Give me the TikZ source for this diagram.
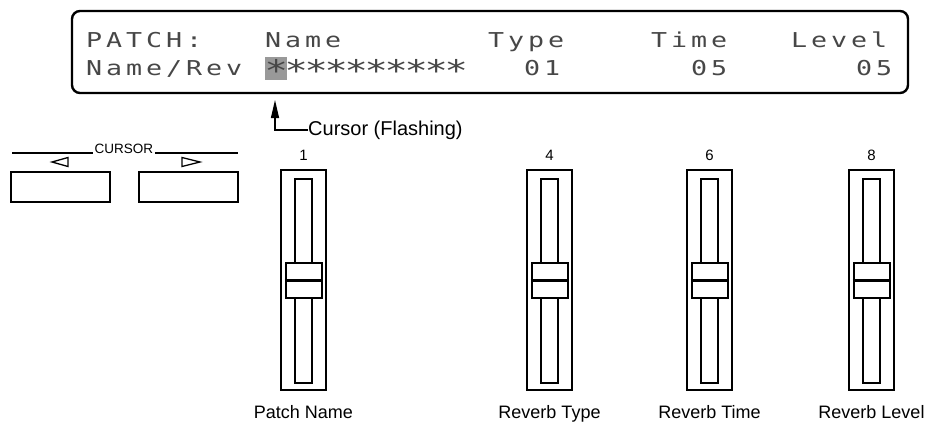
\documentclass[tikz,border=0pt]{standalone}
\usepackage{fontspec}
\setmainfont{Liberation Sans}
\newfontfamily\lcdfont[FakeStretch=1.3]{DejaVu Sans Mono}
\usetikzlibrary{arrows.meta}
\let\lcdend\relax
\def\lcdloop#1{\ifx#1\lcdend\else\makebox[20pt]{#1}\expandafter\lcdloop\fi}
\newcommand\lcdword[1]{\lcdloop#1\lcdend}
\def\starloop#1{\ifx#1\lcdend\else\makebox[20pt]{\raisebox{-6pt}{\scalebox{1.45}{#1}}}\expandafter\starloop\fi}
\newcommand\lcdstars[1]{\starloop#1\lcdend}
\begin{document}
\begin{tikzpicture}[x=1pt,y=-1pt,
  lcdtxt/.style={anchor=base west,inner sep=0pt,text=black!72,font=\lcdfont\fontsize{20.5}{20.5}\selectfont},
  thinline/.style={line width=1.2pt},
  frame/.style={draw,line width=2.6pt,rectangle,inner sep=0pt,minimum width=45,minimum height=220},
  track/.style={draw,line width=1.3pt,rectangle,inner sep=0pt,minimum width=17,minimum height=204},
  knob/.style={draw,fill=white,line width=2pt,rectangle,inner sep=0pt,minimum width=36,minimum height=35},
  numlbl/.style={font=\fontsize{15}{15}\selectfont,inner sep=0pt},
  namelbl/.style={anchor=base,font=\fontsize{18}{18}\selectfont,inner sep=0pt},
  button/.style={draw,line width=1.8pt,rectangle,inner sep=0pt,minimum width=99,minimum height=30}
]
\useasboundingbox (0,0) rectangle (932,423);
% LCD
\node[draw,line width=2.4pt,rounded corners=8pt,rectangle,inner sep=0pt,minimum width=836,minimum height=82] (lcd) at (490,52) {};
\node[fill=black!40,inner sep=0pt,minimum width=22,minimum height=23] (hl) at (276,68.5) {};
\node[lcdtxt] (t1) at (84,47) {\lcdword{PATCH:}};
\node[lcdtxt] (t2) at (263,47) {\lcdword{Name}};
\node[lcdtxt] (t3) at (486,47) {\lcdword{Type}};
\node[lcdtxt] (t4) at (649,47) {\lcdword{Time}};
\node[lcdtxt] (t5) at (789,47) {\lcdword{Level}};
\node[lcdtxt] (u1) at (84,75) {\lcdword{Name/Rev}};
\node[lcdtxt] (u2) at (266,75) {\lcdstars{**********}};
\node[lcdtxt] (u3) at (522,75) {\lcdword{01}};
\node[lcdtxt] (u4) at (689,75) {\lcdword{05}};
\node[lcdtxt] (u5) at (854,75) {\lcdword{05}};
% cursor pointer
\node[anchor=west,inner sep=0pt,font=\fontsize{20}{20}\selectfont] (cf) at (308,130) {Cursor (Flashing)};
\coordinate (tip) at (275,100);
\draw[thinline,-{Triangle[length=18pt,width=8pt]}] (cf.west) -| (tip);
% cursor buttons
\node[anchor=base,inner sep=1.5pt,font=\fontsize{13.5}{13.5}\selectfont] (cur) at (124,153) {CURSOR};
\coordinate (cl) at (12,153);
\coordinate (cr) at (238,153);
\draw[thinline] (cl) -- (cur.base west);
\draw[thinline] (cur.base east) -- (cr);
\draw[line width=1.3pt,line join=miter] (68,157.5) -- (52,162) -- (68,166.5) -- cycle;
\draw[line width=1.3pt,line join=miter] (182,157.5) -- (200,162) -- (182,166.5) -- cycle;
\node[button] (bl) at (60.5,187) {};
\node[button] (br) at (188.5,187) {};
% sliders
\foreach \cx/\n/\lab/\id in {303.5/1/Patch Name/a,549.5/4/Reverb Type/b,709.5/6/Reverb Time/c,871.5/8/Reverb Level/d}{
  \node[frame] (fr\id) at (\cx,280) {};
  \node[track] (tr\id) at (\cx,281) {};
  \node[knob] (kn\id) at (\cx,280.5) {};
  \draw[line width=2.2pt] (kn\id.west) -- (kn\id.east);
  \node[numlbl] (nm\id) at (\cx,155) {\n};
  \node[namelbl] (lb\id) at (\cx,418.5) {\lab};
}
\end{tikzpicture}
\end{document}
